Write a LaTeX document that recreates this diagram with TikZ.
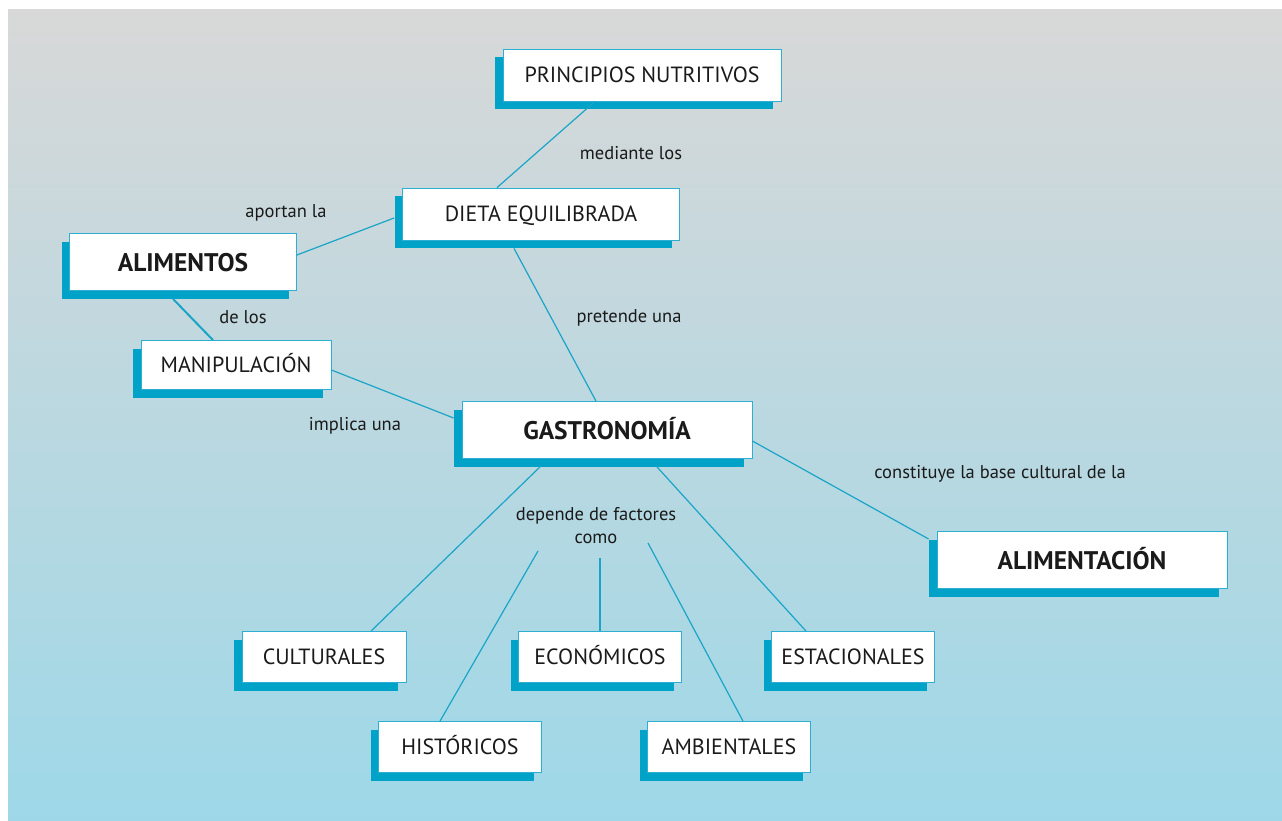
\documentclass[tikz,border=0pt]{standalone}
\usepackage{fontspec}
\setmainfont{PT Sans}
\usepackage{xcolor}
\usetikzlibrary{shadows}
\definecolor{linkblue}{HTML}{1AA5C8}
\definecolor{shadeblue}{HTML}{00A2C8}
\definecolor{rimblue}{HTML}{2EAED0}
\definecolor{bgtop}{HTML}{D8D8D8}
\definecolor{bgbot}{HTML}{9ED8E8}
\definecolor{ink}{HTML}{1A1A1A}

\begin{document}
\begin{tikzpicture}[x=1pt, y=-1pt,
  box/.style={draw=rimblue, fill=white, line width=0.8pt, text=ink, inner sep=0pt,
              font=\fontsize{22}{26}\selectfont, minimum height=52pt,
              text height=15.5pt, text depth=0pt,
              drop shadow={shadow xshift=-8pt, shadow yshift=-8pt, fill=shadeblue, opacity=1}},
  bigbox/.style={box, minimum height=57pt, text height=18pt,
                 font=\fontsize{25.5}{30}\selectfont\bfseries},
  smallbox/.style={box, minimum width=163pt, minimum height=51pt},
  link/.style={draw=linkblue, line width=1.2pt},
  tag/.style={text=ink, align=center, font=\fontsize{18.5}{23}\selectfont}]
  \useasboundingbox (0,0) rectangle (1282,821);
  \shade[top color=bgtop, bottom color=bgbot] (8,10) rectangle (1282,821);
  % concepts
  \node[box, minimum width=278pt] (princ) at (642,75) {PRINCIPIOS NUTRITIVOS};
  \node[box, minimum width=277pt] (dieta) at (541,214) {DIETA EQUILIBRADA};
  \node[bigbox, minimum width=227pt] (alim) at (183,262) {ALIMENTOS};
  \node[box, minimum width=190pt, minimum height=49pt] (mani) at (236,365) {MANIPULACIÓN};
  \node[bigbox, minimum width=290pt] (gastro) at (607,430) {GASTRONOMÍA};
  \node[bigbox, minimum width=290pt] (alimt) at (1082,560) {ALIMENTACIÓN};
  \node[smallbox, minimum width=164pt] (cult) at (324,657) {CULTURALES};
  \node[smallbox] (econ) at (600,657) {ECONÓMICOS};
  \node[smallbox] (estac) at (853,657) {ESTACIONALES};
  \node[smallbox] (hist) at (460,747) {HISTÓRICOS};
  \node[smallbox] (amb) at (729,747) {AMBIENTALES};
  % linking words
  \node[tag] (mediante) at (631,153) {mediante los};
  \node[tag] (aportan) at (286,213) {aportan la};
  \node[tag] (delos) at (243,317) {de los};
  \node[tag] (pretende) at (629,318) {pretende una};
  \node[tag] (implica) at (355,426) {implica una};
  \node[tag] (constituye) at (1000,474) {constituye la base cultural de la};
  \node[tag] (depende) at (596,526) {depende de factores\\como};
  \coordinate (fromhist) at (538,551);
  \coordinate (fromecon) at (600,558);
  \coordinate (fromamb) at (648,543);
  % links
  \draw[link] ([xshift=-47pt]princ.south)--([xshift=-44pt]dieta.north);
  \draw[link] ([yshift=7pt]alim.east)--([xshift=-8pt,yshift=-4pt]dieta.west);
  \draw[link, line width=2pt] ([xshift=-10pt,yshift=-8pt]alim.south)--([xshift=-23pt]mani.north);
  \draw[link] ([yshift=-5pt]mani.east)--([xshift=-8pt,yshift=12pt]gastro.west);
  \draw[link] ([xshift=-27pt,yshift=-8pt]dieta.south)--([xshift=-11pt]gastro.north);
  \draw[link] ([yshift=-11pt]gastro.east)--([xshift=-8pt,yshift=21pt]alimt.west);
  \draw[link] ([xshift=-67pt,yshift=-8pt]gastro.south)--([xshift=47pt]cult.north);
  \draw[link] ([xshift=50pt,yshift=-8pt]gastro.south)--([xshift=-47pt]estac.north);
  \draw[link] (fromhist)--([xshift=-20pt]hist.north);
  \draw[link, line width=2pt] (fromecon)--(econ.north);
  \draw[link] (fromamb)--([xshift=14pt]amb.north);
\end{tikzpicture}
\end{document}
